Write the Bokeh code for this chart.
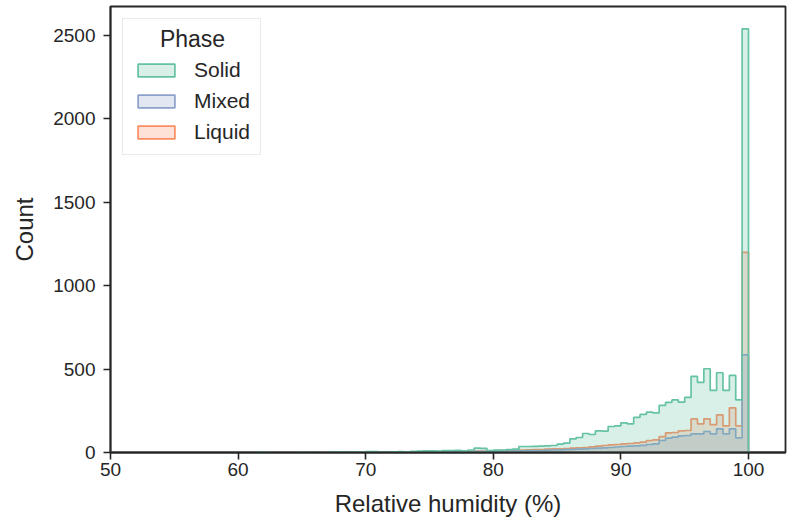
import numpy as np
from bokeh.plotting import figure
from bokeh.models import Legend, LegendItem, Label, FixedTicker, Range1d
from bokeh.embed import file_html
from bokeh.resources import INLINE

BIN_START = 50.0
BIN_WIDTH = 0.5

# counts per 0.5 % bin, from 50 to 100 (100 bins)
solid = [
    0, 0, 0, 0, 0, 0, 0, 0, 0, 0,
    0, 0, 0, 0, 0, 0, 0, 0, 0, 0,
    0, 0, 0, 3, 1, 0, 0, 0, 0, 1,
    0, 1, 0, 0, 3, 4, 2, 3, 4, 2,
    5, 6, 3, 2, 4, 5, 4, 7, 8, 10,
    10, 9, 11, 12, 13, 10, 15, 26, 25, 12,
    14, 15, 18, 20, 36, 36, 37, 38, 40, 42,
    50, 56, 82, 90, 114, 108, 130, 128, 156, 160,
    178, 172, 210, 228, 242, 238, 282, 300, 315, 302,
    330, 456, 421, 502, 372, 478, 372, 462, 316, 2540,
]
mixed = [
    0, 0, 0, 0, 0, 0, 0, 0, 0, 0,
    0, 0, 0, 0, 0, 0, 0, 0, 0, 0,
    0, 0, 0, 0, 0, 0, 0, 0, 0, 0,
    0, 0, 0, 0, 1, 0, 0, 1, 0, 1,
    1, 1, 1, 2, 1, 1, 2, 2, 2, 3,
    3, 3, 4, 4, 4, 5, 5, 6, 6, 7,
    7, 8, 8, 9, 10, 11, 12, 12, 14, 15,
    16, 17, 18, 20, 22, 24, 26, 28, 30, 33,
    36, 38, 40, 43, 48, 52, 72, 86, 92, 100,
    102, 112, 112, 126, 112, 142, 112, 142, 88, 585,
]
liquid = [
    0, 0, 0, 0, 0, 0, 0, 0, 0, 0,
    0, 0, 0, 0, 0, 0, 0, 0, 0, 0,
    0, 0, 0, 0, 0, 0, 0, 0, 0, 0,
    0, 0, 0, 1, 2, 1, 0, 2, 1, 0,
    2, 1, 2, 3, 1, 2, 2, 3, 3, 4,
    4, 5, 4, 6, 5, 6, 7, 8, 8, 9,
    10, 11, 12, 14, 15, 16, 18, 18, 20, 22,
    22, 24, 26, 28, 30, 34, 38, 42, 46, 48,
    52, 54, 58, 62, 72, 76, 95, 118, 120, 130,
    132, 202, 172, 202, 167, 226, 160, 268, 160, 1200,
]

phases = ["Solid", "Mixed", "Liquid"]
colors = {"Solid": "#66c2a5", "Mixed": "#8da0cb", "Liquid": "#fc8d62"}
series = {"Solid": solid, "Mixed": mixed, "Liquid": liquid}
x_ticks = [50, 60, 70, 80, 90, 100]
y_ticks = [0, 500, 1000, 1500, 2000, 2500]

FONT = "Liberation Sans"
INK = "#262626"


def step_outline(counts):
    edges = BIN_START + BIN_WIDTH * np.arange(len(counts) + 1)
    xs = [edges[0]]
    ys = [0]
    for i, c in enumerate(counts):
        xs += [edges[i], edges[i + 1]]
        ys += [c, c]
    xs.append(edges[-1])
    ys.append(0)
    return xs, ys


p = figure(width=787, height=522, output_backend="svg", toolbar_location=None,
           title=None,
           x_range=Range1d(50, 102.9), y_range=Range1d(0, 2674),
           min_border_left=110, min_border_right=2, min_border_top=6,
           min_border_bottom=70)
p.background_fill_color = "white"
p.border_fill_color = "white"
p.xgrid.visible = False
p.ygrid.visible = False
p.outline_line_color = INK
p.outline_line_width = 1.8
p.outline_line_alpha = 1.0

renderers = {}
for ph in reversed(phases):
    xs, ys = step_outline(series[ph])
    r = p.patch(xs, ys, fill_color=colors[ph], fill_alpha=0.25,
                line_color=colors[ph], line_width=1.7)
    renderers[ph] = r

for ax in (p.xaxis[0], p.yaxis[0]):
    ax.axis_line_color = INK
    ax.axis_line_width = 1.8
    ax.major_tick_line_color = INK
    ax.major_tick_line_width = 1.6
    ax.major_tick_out = 7
    ax.major_tick_in = 0
    ax.minor_tick_line_color = None
    ax.major_label_text_font = FONT
    ax.major_label_text_font_size = "19px"
    ax.major_label_text_color = INK
    ax.axis_label_text_font = FONT
    ax.axis_label_text_font_size = "24px"
    ax.axis_label_text_color = INK
    ax.axis_label_text_font_style = "normal"

p.xaxis.ticker = FixedTicker(ticks=x_ticks)
p.yaxis.ticker = FixedTicker(ticks=y_ticks)
p.xaxis.axis_label = "Relative humidity (%)"
p.yaxis.axis_label = "Count"
p.xaxis.major_label_standoff = 3
p.yaxis.major_label_standoff = 8
p.xaxis.axis_label_standoff = 11
p.yaxis.axis_label_standoff = 12

items = [LegendItem(label=ph, renderers=[renderers[ph]]) for ph in phases]
legend = Legend(items=items, location="top_left")
legend.title = "Phase"
legend.title_text_alpha = 0.0
legend.title_text_font = FONT
legend.title_text_font_size = "23px"
legend.title_standoff = 2
legend.label_text_font = FONT
legend.label_text_font_size = "21px"
legend.label_text_color = INK
legend.glyph_width = 46
legend.glyph_height = 16
legend.label_standoff = 15
legend.spacing = 7
legend.padding = 10
legend.margin = 12
legend.border_line_color = "#d6d6d6"
legend.border_line_width = 1.2
legend.background_fill_alpha = 0.0
p.add_layout(legend, "center")

title = Label(x=82, y=414, x_units="screen", y_units="screen", text="Phase",
              text_font=FONT, text_font_size="23px", text_color=INK,
              text_align="center", text_baseline="middle", level="overlay")
p.add_layout(title)

open("out.html", "w").write(file_html(p, INLINE))
